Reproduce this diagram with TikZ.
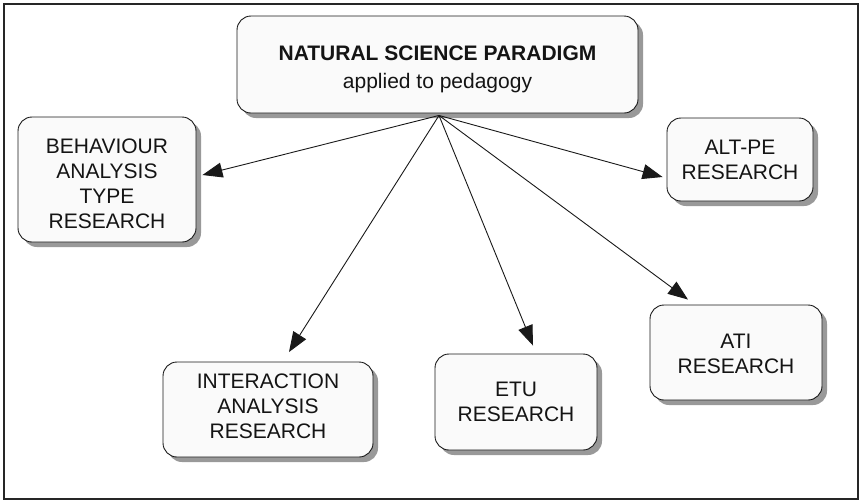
\documentclass[tikz,border=0pt]{standalone}
\usepackage{fontspec}
\setmainfont{Liberation Sans}
\usetikzlibrary{arrows.meta,shadows,calc}
\begin{document}
\begin{tikzpicture}[x=1pt,y=-1pt,
  box/.style={draw=black!90, line width=0.9pt, rounded corners=14pt, fill=black!2,
    drop shadow={shadow xshift=5pt, shadow yshift=-5pt, fill=black!40, opacity=1}},
  lbl/.style={align=center, inner sep=0pt, font=\fontsize{21}{25}\selectfont, text=black!92},
  conn/.style={draw=black!90, line width=0.9pt, -{Triangle[length=20pt,width=15pt]}},
  frame/.style={draw=black!85, line width=1.6pt}]
\useasboundingbox (0,0) rectangle (861,501);
\draw[frame] (4,4) rectangle (858,499);

\node[box, minimum width=401pt, minimum height=97pt,
  label={[lbl, yshift=-4.5pt]center:{\textbf{NATURAL SCIENCE PARADIGM}\\[3pt] applied to pedagogy}}]
  (top) at (437.5,64.5) {};
\node[box, minimum width=178pt, minimum height=125pt,
  label={[lbl, yshift=-4pt]center:{BEHAVIOUR\\ANALYSIS\\TYPE\\RESEARCH}}]
  (behav) at (107,179.5) {};
\node[box, minimum width=146pt, minimum height=83pt,
  label={[lbl]center:{ALT-PE\\RESEARCH}}]
  (altpe) at (740,159.5) {};
\node[box, minimum width=210pt, minimum height=95pt,
  label={[lbl, yshift=3pt]center:{INTERACTION\\ANALYSIS\\RESEARCH}}]
  (inter) at (268,409.5) {};
\node[box, minimum width=162pt, minimum height=96pt,
  label={[lbl]center:{ETU\\RESEARCH}}]
  (etu) at (516,402) {};
\node[box, minimum width=172pt, minimum height=95pt,
  label={[lbl, yshift=-1.5pt]center:{ATI\\RESEARCH}}]
  (ati) at (736,352.5) {};

\coordinate (o) at ([xshift=1.5pt,yshift=-2pt]top.south);
\draw[conn] (o) -- ([xshift=6pt,yshift=4.5pt]behav.east);
\draw[conn] (o) -- ([xshift=21pt,yshift=9.5pt]inter.north);
\draw[conn] (o) -- ([xshift=17pt,yshift=8pt]etu.north);
\draw[conn] (o) -- ([xshift=-48pt,yshift=5pt]ati.north);
\draw[conn] (o) -- ([xshift=-4pt,yshift=-17.5pt]altpe.west);
\end{tikzpicture}
\end{document}
